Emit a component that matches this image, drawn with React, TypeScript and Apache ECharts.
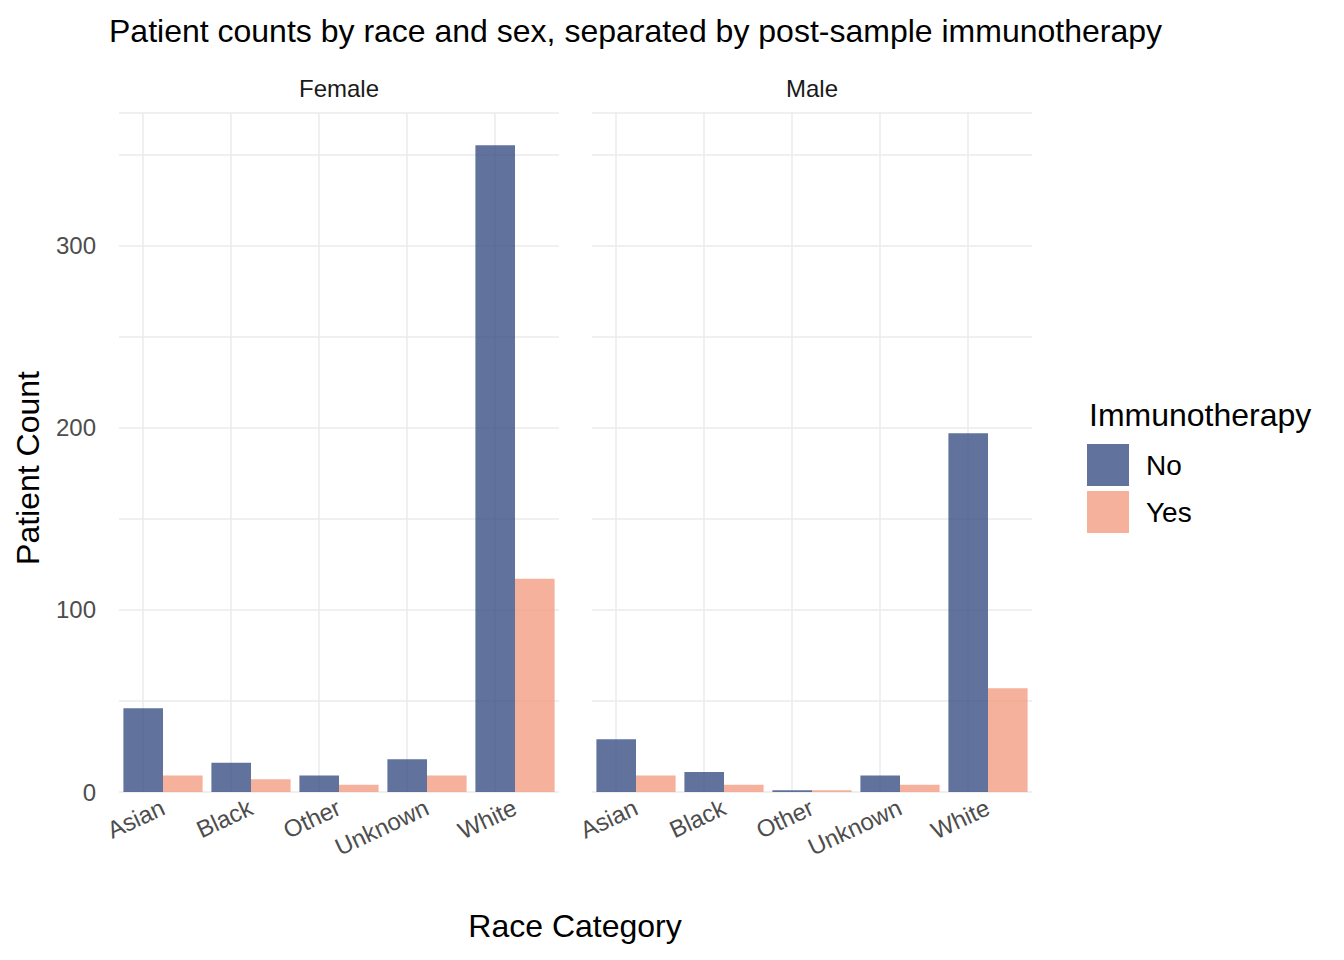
import React, { useEffect, useRef } from "react";
import * as echarts from "echarts";

const categories = ["Asian", "Black", "Other", "Unknown", "White"];
const femaleNo = [46, 16, 9, 18, 355];
const femaleYes = [9, 7, 4, 9, 117];
const maleNo = [29, 11, 1, 9, 197];
const maleYes = [9, 4, 1, 4, 57];
const panels = ["Female", "Male"];
const colNo = "rgba(53,76,130,0.78)";
const colYes = "rgba(242,155,128,0.78)";

export default function App() {
  const ref = useRef<HTMLDivElement>(null);
  useEffect(() => {
    const chart = echarts.init(ref.current!, null, { renderer: "svg" });
    const lefts = [119, 592];
    const font = "Liberation Sans, Arial, sans-serif";
    const grids = lefts.map((l) => ({ left: l, width: 440, top: 113, bottom: 168 }));
    const xAxes = lefts.map((_, i) => ({
      type: "category", gridIndex: i, data: categories,
      axisLine: { show: false }, axisTick: { show: false }, splitLine: { show: false },
      axisLabel: { rotate: 25, color: "#4d4d4d", fontSize: 24, fontFamily: font, margin: 14, interval: 0 },
    }));
    const yAxes = lefts.map((_, i) => ({
      type: "value", gridIndex: i, min: 0, max: 372.75, interval: 50,
      axisLine: { show: false }, axisTick: { show: false },
      splitLine: { lineStyle: { color: "#ebebeb", width: 1.5 } },
      axisLabel: {
        show: i === 0, color: "#4d4d4d", fontSize: 24, fontFamily: font, margin: 23,
        formatter: (v: number) => (v % 100 === 0 ? String(v) : ""),
      },
    }));
    const data = [[femaleNo, femaleYes], [maleNo, maleYes]];
    const series: any[] = [];
    data.forEach((pair, i) => {
      series.push({
        type: "bar", name: "No", xAxisIndex: i, yAxisIndex: i, data: pair[0],
        itemStyle: { color: colNo }, barGap: "0%", barCategoryGap: "10%", z: 3,
        markLine: {
          silent: true, symbol: "none", label: { show: false },
          lineStyle: { color: "#ebebeb", width: 1.5, type: "solid" }, z: 1,
          data: categories.map((c) => ({ xAxis: c })),
        },
      });
      series.push({
        type: "bar", name: "Yes", xAxisIndex: i, yAxisIndex: i, data: pair[1],
        itemStyle: { color: colYes }, barGap: "0%", barCategoryGap: "10%", z: 3,
      });
    });
    chart.setOption({
      animation: false,
      textStyle: { fontFamily: font },
      title: {
        text: "Patient counts by race and sex, separated by post-sample immunotherapy",
        left: 104, top: 10, textStyle: { fontSize: 32, fontWeight: "normal", color: "#000", fontFamily: font },
      },
      grid: grids, xAxis: xAxes, yAxis: yAxes, series,
      legend: {
        orient: "vertical", left: 1082, top: 439, itemWidth: 42, itemHeight: 42, itemGap: 5,
        icon: "rect", data: ["No", "Yes"],
        textStyle: { fontSize: 28, color: "#000", fontFamily: font, padding: [0, 0, 0, 12] },
      },
      graphic: [
        ...panels.map((p, i) => ({
          type: "text", x: lefts[i] + 220, y: 88,
          style: { text: p, fontSize: 24, fill: "#1a1a1a", fontFamily: font, align: "center", verticalAlign: "middle" },
        })),
        { type: "text", x: 1089, y: 415, style: { text: "Immunotherapy", fontSize: 32, fill: "#000", fontFamily: font, verticalAlign: "middle" } },
        { type: "text", x: 575, y: 926, style: { text: "Race Category", fontSize: 32, fill: "#000", fontFamily: font, align: "center", verticalAlign: "middle" } },
        { type: "text", x: 28, y: 468, rotation: Math.PI / 2, style: { text: "Patient Count", fontSize: 32, fill: "#000", fontFamily: font, align: "center", verticalAlign: "middle" } },
      ],
    });
    return () => chart.dispose();
  }, []);
  return <div ref={ref} style={{ width: 1344, height: 960, margin: -8 }} />;
}
